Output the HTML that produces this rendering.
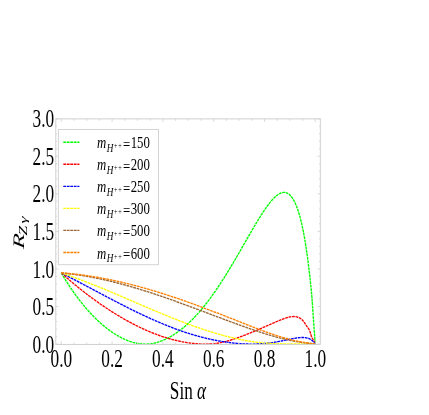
<!DOCTYPE html>
<html><head><meta charset="utf-8"><title>R_Zgamma vs Sin alpha</title>
<style>html,body{margin:0;padding:0;background:#fff;}svg{display:block;will-change:transform;}text{font-family:"Liberation Serif", serif;fill:#000;}</style></head><body>
<svg width="429" height="415" viewBox="0 0 429 415">
<rect x="0" y="0" width="429" height="415" fill="#ffffff"/>
<defs><clipPath id="cp"><rect x="55.8" y="118.9" width="264.50" height="225.50"/></clipPath></defs>
<g clip-path="url(#cp)" fill="none" stroke-width="1.35" stroke-dasharray="2.8,0.7">
<path d="M61.30,273.00 L62.10,274.36 L62.90,275.70 L63.70,277.02 L64.50,278.33 L65.30,279.63 L66.10,280.91 L66.90,282.17 L67.70,283.42 L68.50,284.65 L69.29,285.87 L70.09,287.08 L70.89,288.26 L71.69,289.44 L72.49,290.60 L73.29,291.75 L74.09,292.88 L74.89,294.00 L75.68,295.10 L76.48,296.19 L77.28,297.27 L78.08,298.33 L78.88,299.38 L79.67,300.42 L80.47,301.44 L81.27,302.45 L82.07,303.45 L82.86,304.43 L83.66,305.40 L84.46,306.36 L85.25,307.30 L86.05,308.24 L86.84,309.15 L87.64,310.06 L88.43,310.96 L89.23,311.84 L90.02,312.71 L90.82,313.56 L91.61,314.41 L92.40,315.24 L93.20,316.06 L93.99,316.87 L94.78,317.67 L95.58,318.45 L96.37,319.22 L97.16,319.98 L97.95,320.73 L98.74,321.47 L99.53,322.19 L100.32,322.91 L101.11,323.61 L101.90,324.30 L102.69,324.98 L103.48,325.64 L104.27,326.30 L105.06,326.94 L105.84,327.57 L106.63,328.19 L107.42,328.80 L108.20,329.40 L108.99,329.98 L109.77,330.56 L110.56,331.12 L111.34,331.67 L112.13,332.21 L112.91,332.74 L113.69,333.25 L114.47,333.76 L115.26,334.25 L116.04,334.73 L116.82,335.20 L117.60,335.66 L118.38,336.11 L119.16,336.54 L119.93,336.97 L120.71,337.38 L121.49,337.78 L122.27,338.17 L123.04,338.54 L123.82,338.91 L124.59,339.26 L125.37,339.60 L126.14,339.93 L126.91,340.25 L127.68,340.55 L128.45,340.85 L129.23,341.13 L130.00,341.40 L130.77,341.65 L131.53,341.90 L132.30,342.13 L133.07,342.35 L133.84,342.55 L134.60,342.75 L135.37,342.93 L136.13,343.10 L136.90,343.26 L137.66,343.40 L138.42,343.53 L139.18,343.65 L139.94,343.75 L140.70,343.84 L141.46,343.92 L142.22,343.98 L142.98,344.03 L143.73,344.07 L144.49,344.09 L145.24,344.10 L146.00,344.10 L146.75,344.08 L147.50,344.05 L148.26,344.00 L149.01,343.94 L149.76,343.87 L150.51,343.78 L151.25,343.68 L152.00,343.57 L152.75,343.44 L153.49,343.30 L154.24,343.15 L154.98,342.98 L155.72,342.80 L156.47,342.61 L157.21,342.40 L157.95,342.18 L158.69,341.95 L159.42,341.70 L160.16,341.45 L160.90,341.18 L161.63,340.90 L162.37,340.61 L163.10,340.30 L163.83,339.99 L164.56,339.66 L165.29,339.33 L166.02,338.98 L166.75,338.62 L167.48,338.25 L168.20,337.87 L168.93,337.48 L169.65,337.09 L170.37,336.68 L171.09,336.26 L171.82,335.84 L172.53,335.40 L173.25,334.96 L173.97,334.50 L174.69,334.04 L175.40,333.57 L176.11,333.09 L176.83,332.60 L177.54,332.10 L178.25,331.59 L178.96,331.07 L179.67,330.55 L180.37,330.02 L181.08,329.47 L181.78,328.92 L182.49,328.36 L183.19,327.79 L183.89,327.22 L184.59,326.63 L185.29,326.04 L185.98,325.43 L186.68,324.82 L187.38,324.20 L188.07,323.57 L188.76,322.93 L189.45,322.29 L190.14,321.63 L190.83,320.97 L191.52,320.29 L192.20,319.61 L192.89,318.92 L193.57,318.22 L194.25,317.51 L194.93,316.80 L195.61,316.07 L196.29,315.34 L196.97,314.60 L197.64,313.86 L198.32,313.10 L198.99,312.34 L199.66,311.57 L200.33,310.79 L201.00,310.00 L201.67,309.21 L202.33,308.41 L203.00,307.61 L203.66,306.79 L204.32,305.97 L204.98,305.14 L205.64,304.31 L206.30,303.47 L206.95,302.62 L207.61,301.77 L208.26,300.91 L208.91,300.04 L209.56,299.17 L210.21,298.29 L210.86,297.41 L211.50,296.52 L212.15,295.63 L212.79,294.73 L213.43,293.83 L214.07,292.92 L214.71,292.00 L215.34,291.08 L215.98,290.16 L216.61,289.23 L217.24,288.30 L217.87,287.36 L218.50,286.42 L219.13,285.47 L219.76,284.52 L220.38,283.57 L221.00,282.61 L221.62,281.65 L222.24,280.69 L222.86,279.72 L223.48,278.76 L224.09,277.78 L224.70,276.81 L225.32,275.83 L225.93,274.85 L226.53,273.87 L227.14,272.89 L227.74,271.90 L228.35,270.91 L228.95,269.93 L229.55,268.94 L230.15,267.94 L230.74,266.95 L231.34,265.96 L231.93,264.96 L232.52,263.97 L233.11,262.97 L233.70,261.98 L234.29,260.98 L234.87,259.99 L235.45,258.99 L236.04,258.00 L236.62,257.00 L237.19,256.01 L237.77,255.02 L238.34,254.02 L238.92,253.03 L239.49,252.04 L240.06,251.06 L240.62,250.07 L241.19,249.09 L241.75,248.11 L242.31,247.13 L242.87,246.15 L243.43,245.18 L243.99,244.21 L244.54,243.24 L245.10,242.27 L245.65,241.31 L246.20,240.35 L246.74,239.40 L247.29,238.45 L247.83,237.50 L248.37,236.56 L248.91,235.62 L249.45,234.69 L249.99,233.76 L250.52,232.84 L251.05,231.92 L251.58,231.01 L252.11,230.10 L252.64,229.20 L253.17,228.30 L253.69,227.42 L254.21,226.53 L254.73,225.66 L255.25,224.79 L255.76,223.92 L256.27,223.07 L256.79,222.22 L257.30,221.37 L257.80,220.54 L258.31,219.71 L258.81,218.89 L259.31,218.08 L259.81,217.28 L260.31,216.49 L260.81,215.70 L261.30,214.92 L261.79,214.16 L262.28,213.40 L262.77,212.65 L263.26,211.91 L263.74,211.18 L264.22,210.46 L264.70,209.75 L265.18,209.05 L265.66,208.37 L266.13,207.69 L266.60,207.02 L267.07,206.37 L267.54,205.73 L268.01,205.10 L268.47,204.48 L268.93,203.88 L269.39,203.29 L269.85,202.71 L270.30,202.14 L270.76,201.59 L271.21,201.06 L271.66,200.53 L272.10,200.02 L272.55,199.53 L272.99,199.05 L273.43,198.58 L273.87,198.13 L274.31,197.70 L274.74,197.28 L275.17,196.87 L275.60,196.49 L276.03,196.11 L276.46,195.76 L276.88,195.42 L277.30,195.10 L277.72,194.80 L278.14,194.51 L278.56,194.24 L278.97,193.99 L279.38,193.76 L279.79,193.54 L280.20,193.34 L280.60,193.16 L281.00,193.00 L281.40,192.86 L281.80,192.74 L282.20,192.64 L282.59,192.55 L282.98,192.49 L283.37,192.44 L283.76,192.42 L284.14,192.41 L284.53,192.43 L284.91,192.47 L285.28,192.52 L285.66,192.60 L286.03,192.70 L286.41,192.81 L286.77,192.95 L287.14,193.11 L287.51,193.29 L287.87,193.49 L288.23,193.72 L288.59,193.96 L288.94,194.22 L289.30,194.51 L289.65,194.82 L290.00,195.15 L290.34,195.49 L290.69,195.87 L291.03,196.26 L291.37,196.67 L291.71,197.11 L292.04,197.56 L292.38,198.04 L292.71,198.54 L293.04,199.06 L293.36,199.60 L293.69,200.17 L294.01,200.75 L294.33,201.36 L294.64,201.99 L294.96,202.64 L295.27,203.30 L295.58,204.00 L295.89,204.71 L296.19,205.44 L296.50,206.19 L296.80,206.97 L297.10,207.77 L297.39,208.58 L297.69,209.42 L297.98,210.27 L298.27,211.15 L298.55,212.05 L298.84,212.97 L299.12,213.90 L299.40,214.86 L299.68,215.84 L299.95,216.83 L300.22,217.85 L300.49,218.88 L300.76,219.94 L301.03,221.01 L301.29,222.10 L301.55,223.21 L301.81,224.34 L302.07,225.48 L302.32,226.64 L302.57,227.82 L302.82,229.02 L303.07,230.23 L303.31,231.46 L303.55,232.71 L303.79,233.97 L304.03,235.25 L304.26,236.54 L304.49,237.85 L304.72,239.17 L304.95,240.51 L305.17,241.86 L305.40,243.22 L305.62,244.60 L305.83,245.98 L306.05,247.38 L306.26,248.79 L306.47,250.20 L306.68,251.63 L306.88,253.06 L307.09,254.50 L307.29,255.95 L307.49,257.41 L307.68,258.86 L307.87,260.33 L308.07,261.79 L308.25,263.27 L308.44,264.74 L308.62,266.21 L308.80,267.69 L308.98,269.17 L309.16,270.64 L309.33,272.12 L309.50,273.59 L309.67,275.07 L309.84,276.54 L310.00,278.01 L310.16,279.47 L310.32,280.93 L310.48,282.38 L310.63,283.83 L310.78,285.27 L310.93,286.71 L311.08,288.16 L311.22,289.62 L311.36,291.10 L311.50,292.61 L311.64,294.15 L311.77,295.73 L311.90,297.35 L312.03,299.01 L312.16,300.71 L312.28,302.44 L312.41,304.17 L312.53,305.90 L312.64,307.62 L312.76,309.32 L312.87,310.98 L312.98,312.61 L313.08,314.20 L313.19,315.73 L313.29,317.21 L313.39,318.65 L313.48,320.03 L313.58,321.36 L313.67,322.65 L313.76,323.89 L313.85,325.08 L313.93,326.24 L314.01,327.35 L314.09,328.42 L314.17,329.44 L314.24,330.43 L314.31,331.38 L314.38,332.29 L314.45,333.17 L314.51,334.00 L314.58,334.80 L314.63,335.57 L314.69,336.30 L314.75,336.99 L314.80,337.66 L314.85,338.28 L314.89,338.88 L314.94,339.44 L314.98,339.97 L315.02,340.47 L315.05,340.93 L315.09,341.37 L315.12,341.77 L315.15,342.14 L315.17,342.48 L315.20,342.78 L315.22,343.06 L315.24,343.30 L315.25,343.51 L315.27,343.69 L315.28,343.84 L315.29,343.95 L315.29,344.03 L315.30,344.08 L315.30,344.10" stroke="#00ff00"/>
<path d="M61.30,273.00 L62.10,273.71 L62.90,274.42 L63.70,275.13 L64.50,275.83 L65.30,276.53 L66.10,277.23 L66.90,277.92 L67.70,278.61 L68.50,279.30 L69.29,279.98 L70.09,280.66 L70.89,281.34 L71.69,282.01 L72.49,282.68 L73.29,283.35 L74.09,284.01 L74.89,284.67 L75.68,285.33 L76.48,285.98 L77.28,286.63 L78.08,287.28 L78.88,287.92 L79.67,288.56 L80.47,289.19 L81.27,289.83 L82.07,290.45 L82.86,291.08 L83.66,291.70 L84.46,292.32 L85.25,292.94 L86.05,293.55 L86.84,294.16 L87.64,294.76 L88.43,295.36 L89.23,295.96 L90.02,296.56 L90.82,297.15 L91.61,297.74 L92.40,298.32 L93.20,298.90 L93.99,299.48 L94.78,300.05 L95.58,300.63 L96.37,301.19 L97.16,301.76 L97.95,302.32 L98.74,302.87 L99.53,303.43 L100.32,303.98 L101.11,304.53 L101.90,305.07 L102.69,305.61 L103.48,306.15 L104.27,306.68 L105.06,307.21 L105.84,307.73 L106.63,308.26 L107.42,308.78 L108.20,309.29 L108.99,309.80 L109.77,310.31 L110.56,310.82 L111.34,311.32 L112.13,311.82 L112.91,312.31 L113.69,312.80 L114.47,313.29 L115.26,313.78 L116.04,314.26 L116.82,314.73 L117.60,315.21 L118.38,315.68 L119.16,316.14 L119.93,316.61 L120.71,317.07 L121.49,317.52 L122.27,317.97 L123.04,318.42 L123.82,318.87 L124.59,319.31 L125.37,319.75 L126.14,320.18 L126.91,320.61 L127.68,321.04 L128.45,321.46 L129.23,321.88 L130.00,322.30 L130.77,322.71 L131.53,323.12 L132.30,323.52 L133.07,323.93 L133.84,324.32 L134.60,324.72 L135.37,325.11 L136.13,325.49 L136.90,325.88 L137.66,326.26 L138.42,326.63 L139.18,327.00 L139.94,327.37 L140.70,327.73 L141.46,328.09 L142.22,328.45 L142.98,328.80 L143.73,329.15 L144.49,329.49 L145.24,329.83 L146.00,330.16 L146.75,330.50 L147.50,330.82 L148.26,331.15 L149.01,331.47 L149.76,331.78 L150.51,332.09 L151.25,332.40 L152.00,332.70 L152.75,333.00 L153.49,333.30 L154.24,333.59 L154.98,333.88 L155.72,334.16 L156.47,334.44 L157.21,334.71 L157.95,334.98 L158.69,335.25 L159.42,335.51 L160.16,335.77 L160.90,336.03 L161.63,336.28 L162.37,336.52 L163.10,336.77 L163.83,337.00 L164.56,337.24 L165.29,337.47 L166.02,337.69 L166.75,337.92 L167.48,338.13 L168.20,338.35 L168.93,338.56 L169.65,338.76 L170.37,338.96 L171.09,339.16 L171.82,339.36 L172.53,339.55 L173.25,339.73 L173.97,339.92 L174.69,340.10 L175.40,340.27 L176.11,340.44 L176.83,340.61 L177.54,340.77 L178.25,340.93 L178.96,341.09 L179.67,341.24 L180.37,341.39 L181.08,341.53 L181.78,341.67 L182.49,341.81 L183.19,341.94 L183.89,342.07 L184.59,342.20 L185.29,342.32 L185.98,342.44 L186.68,342.55 L187.38,342.66 L188.07,342.77 L188.76,342.87 L189.45,342.97 L190.14,343.06 L190.83,343.15 L191.52,343.24 L192.20,343.32 L192.89,343.40 L193.57,343.47 L194.25,343.54 L194.93,343.61 L195.61,343.67 L196.29,343.73 L196.97,343.78 L197.64,343.83 L198.32,343.88 L198.99,343.92 L199.66,343.96 L200.33,343.99 L201.00,344.02 L201.67,344.04 L202.33,344.06 L203.00,344.08 L203.66,344.09 L204.32,344.10 L204.98,344.10 L205.64,344.10 L206.30,344.09 L206.95,344.08 L207.61,344.06 L208.26,344.04 L208.91,344.02 L209.56,343.99 L210.21,343.95 L210.86,343.91 L211.50,343.86 L212.15,343.81 L212.79,343.76 L213.43,343.70 L214.07,343.63 L214.71,343.56 L215.34,343.48 L215.98,343.40 L216.61,343.32 L217.24,343.22 L217.87,343.13 L218.50,343.02 L219.13,342.92 L219.76,342.80 L220.38,342.69 L221.00,342.57 L221.62,342.44 L222.24,342.31 L222.86,342.17 L223.48,342.03 L224.09,341.89 L224.70,341.74 L225.32,341.59 L225.93,341.43 L226.53,341.27 L227.14,341.11 L227.74,340.94 L228.35,340.77 L228.95,340.60 L229.55,340.42 L230.15,340.25 L230.74,340.06 L231.34,339.88 L231.93,339.69 L232.52,339.51 L233.11,339.32 L233.70,339.12 L234.29,338.93 L234.87,338.73 L235.45,338.53 L236.04,338.33 L236.62,338.13 L237.19,337.93 L237.77,337.73 L238.34,337.52 L238.92,337.32 L239.49,337.11 L240.06,336.90 L240.62,336.69 L241.19,336.49 L241.75,336.28 L242.31,336.07 L242.87,335.85 L243.43,335.64 L243.99,335.43 L244.54,335.22 L245.10,335.01 L245.65,334.79 L246.20,334.58 L246.74,334.36 L247.29,334.15 L247.83,333.94 L248.37,333.72 L248.91,333.51 L249.45,333.29 L249.99,333.07 L250.52,332.86 L251.05,332.64 L251.58,332.43 L252.11,332.21 L252.64,331.99 L253.17,331.78 L253.69,331.56 L254.21,331.34 L254.73,331.13 L255.25,330.91 L255.76,330.69 L256.27,330.48 L256.79,330.26 L257.30,330.04 L257.80,329.82 L258.31,329.61 L258.81,329.39 L259.31,329.17 L259.81,328.96 L260.31,328.74 L260.81,328.53 L261.30,328.31 L261.79,328.10 L262.28,327.88 L262.77,327.67 L263.26,327.45 L263.74,327.24 L264.22,327.03 L264.70,326.82 L265.18,326.61 L265.66,326.40 L266.13,326.19 L266.60,325.98 L267.07,325.77 L267.54,325.57 L268.01,325.36 L268.47,325.16 L268.93,324.95 L269.39,324.75 L269.85,324.55 L270.30,324.35 L270.76,324.15 L271.21,323.95 L271.66,323.75 L272.10,323.56 L272.55,323.36 L272.99,323.17 L273.43,322.98 L273.87,322.79 L274.31,322.60 L274.74,322.41 L275.17,322.23 L275.60,322.04 L276.03,321.86 L276.46,321.68 L276.88,321.50 L277.30,321.32 L277.72,321.15 L278.14,320.97 L278.56,320.80 L278.97,320.63 L279.38,320.46 L279.79,320.29 L280.20,320.13 L280.60,319.97 L281.00,319.81 L281.40,319.65 L281.80,319.49 L282.20,319.34 L282.59,319.19 L282.98,319.04 L283.37,318.89 L283.76,318.75 L284.14,318.61 L284.53,318.47 L284.91,318.34 L285.28,318.21 L285.66,318.09 L286.03,317.97 L286.41,317.85 L286.77,317.74 L287.14,317.63 L287.51,317.52 L287.87,317.42 L288.23,317.33 L288.59,317.23 L288.94,317.15 L289.30,317.07 L289.65,316.99 L290.00,316.92 L290.34,316.86 L290.69,316.80 L291.03,316.74 L291.37,316.70 L291.71,316.65 L292.04,316.62 L292.38,316.59 L292.71,316.57 L293.04,316.55 L293.36,316.54 L293.69,316.53 L294.01,316.54 L294.33,316.55 L294.64,316.56 L294.96,316.59 L295.27,316.62 L295.58,316.66 L295.89,316.70 L296.19,316.76 L296.50,316.82 L296.80,316.89 L297.10,316.96 L297.39,317.05 L297.69,317.14 L297.98,317.24 L298.27,317.35 L298.55,317.46 L298.84,317.59 L299.12,317.72 L299.40,317.86 L299.68,318.01 L299.95,318.17 L300.22,318.34 L300.49,318.52 L300.76,318.70 L301.03,318.90 L301.29,319.11 L301.55,319.32 L301.81,319.55 L302.07,319.78 L302.32,320.03 L302.57,320.28 L302.82,320.55 L303.07,320.82 L303.31,321.11 L303.55,321.40 L303.79,321.71 L304.03,322.02 L304.26,322.35 L304.49,322.68 L304.72,323.02 L304.95,323.36 L305.17,323.71 L305.40,324.05 L305.62,324.40 L305.83,324.74 L306.05,325.08 L306.26,325.41 L306.47,325.74 L306.68,326.05 L306.88,326.36 L307.09,326.65 L307.29,326.93 L307.49,327.19 L307.68,327.45 L307.87,327.69 L308.07,327.94 L308.25,328.19 L308.44,328.45 L308.62,328.71 L308.80,328.99 L308.98,329.29 L309.16,329.61 L309.33,329.96 L309.50,330.33 L309.67,330.74 L309.84,331.18 L310.00,331.65 L310.16,332.16 L310.32,332.70 L310.48,333.25 L310.63,333.80 L310.78,334.33 L310.93,334.84 L311.08,335.30 L311.22,335.73 L311.36,336.12 L311.50,336.47 L311.64,336.80 L311.77,337.09 L311.90,337.37 L312.03,337.62 L312.16,337.85 L312.28,338.07 L312.41,338.27 L312.53,338.46 L312.64,338.65 L312.76,338.82 L312.87,338.99 L312.98,339.15 L313.08,339.31 L313.19,339.47 L313.29,339.63 L313.39,339.78 L313.48,339.95 L313.58,340.11 L313.67,340.28 L313.76,340.45 L313.85,340.63 L313.93,340.81 L314.01,341.00 L314.09,341.18 L314.17,341.36 L314.24,341.54 L314.31,341.72 L314.38,341.89 L314.45,342.05 L314.51,342.22 L314.58,342.37 L314.63,342.52 L314.69,342.66 L314.75,342.79 L314.80,342.92 L314.85,343.04 L314.89,343.15 L314.94,343.25 L314.98,343.35 L315.02,343.44 L315.05,343.52 L315.09,343.60 L315.12,343.67 L315.15,343.74 L315.17,343.80 L315.20,343.85 L315.22,343.90 L315.24,343.95 L315.25,343.99 L315.27,344.02 L315.28,344.05 L315.29,344.07 L315.29,344.09 L315.30,344.10 L315.30,344.10" stroke="#ff0000"/>
<path d="M61.30,273.00 L62.10,273.40 L62.90,273.80 L63.70,274.21 L64.50,274.61 L65.30,275.02 L66.10,275.42 L66.90,275.83 L67.70,276.24 L68.50,276.65 L69.29,277.06 L70.09,277.47 L70.89,277.88 L71.69,278.30 L72.49,278.71 L73.29,279.12 L74.09,279.54 L74.89,279.95 L75.68,280.37 L76.48,280.79 L77.28,281.20 L78.08,281.62 L78.88,282.04 L79.67,282.46 L80.47,282.88 L81.27,283.30 L82.07,283.72 L82.86,284.14 L83.66,284.56 L84.46,284.98 L85.25,285.40 L86.05,285.82 L86.84,286.24 L87.64,286.67 L88.43,287.09 L89.23,287.51 L90.02,287.93 L90.82,288.35 L91.61,288.77 L92.40,289.20 L93.20,289.62 L93.99,290.04 L94.78,290.46 L95.58,290.88 L96.37,291.30 L97.16,291.72 L97.95,292.14 L98.74,292.56 L99.53,292.98 L100.32,293.40 L101.11,293.82 L101.90,294.24 L102.69,294.66 L103.48,295.07 L104.27,295.49 L105.06,295.91 L105.84,296.32 L106.63,296.74 L107.42,297.15 L108.20,297.56 L108.99,297.98 L109.77,298.39 L110.56,298.80 L111.34,299.21 L112.13,299.62 L112.91,300.03 L113.69,300.44 L114.47,300.85 L115.26,301.25 L116.04,301.66 L116.82,302.06 L117.60,302.47 L118.38,302.87 L119.16,303.27 L119.93,303.67 L120.71,304.07 L121.49,304.47 L122.27,304.86 L123.04,305.26 L123.82,305.66 L124.59,306.05 L125.37,306.44 L126.14,306.83 L126.91,307.22 L127.68,307.61 L128.45,308.00 L129.23,308.38 L130.00,308.77 L130.77,309.15 L131.53,309.53 L132.30,309.91 L133.07,310.29 L133.84,310.67 L134.60,311.04 L135.37,311.41 L136.13,311.79 L136.90,312.16 L137.66,312.53 L138.42,312.89 L139.18,313.26 L139.94,313.62 L140.70,313.99 L141.46,314.35 L142.22,314.71 L142.98,315.06 L143.73,315.42 L144.49,315.77 L145.24,316.13 L146.00,316.48 L146.75,316.82 L147.50,317.17 L148.26,317.52 L149.01,317.86 L149.76,318.20 L150.51,318.54 L151.25,318.88 L152.00,319.21 L152.75,319.54 L153.49,319.88 L154.24,320.20 L154.98,320.53 L155.72,320.86 L156.47,321.18 L157.21,321.50 L157.95,321.82 L158.69,322.14 L159.42,322.45 L160.16,322.77 L160.90,323.08 L161.63,323.38 L162.37,323.69 L163.10,324.00 L163.83,324.30 L164.56,324.60 L165.29,324.90 L166.02,325.19 L166.75,325.49 L167.48,325.78 L168.20,326.07 L168.93,326.35 L169.65,326.64 L170.37,326.92 L171.09,327.20 L171.82,327.48 L172.53,327.75 L173.25,328.03 L173.97,328.30 L174.69,328.56 L175.40,328.83 L176.11,329.09 L176.83,329.36 L177.54,329.62 L178.25,329.87 L178.96,330.13 L179.67,330.38 L180.37,330.63 L181.08,330.88 L181.78,331.12 L182.49,331.36 L183.19,331.60 L183.89,331.84 L184.59,332.08 L185.29,332.31 L185.98,332.54 L186.68,332.77 L187.38,332.99 L188.07,333.22 L188.76,333.44 L189.45,333.65 L190.14,333.87 L190.83,334.08 L191.52,334.29 L192.20,334.50 L192.89,334.71 L193.57,334.91 L194.25,335.11 L194.93,335.31 L195.61,335.51 L196.29,335.70 L196.97,335.89 L197.64,336.08 L198.32,336.27 L198.99,336.45 L199.66,336.64 L200.33,336.81 L201.00,336.99 L201.67,337.17 L202.33,337.34 L203.00,337.51 L203.66,337.67 L204.32,337.84 L204.98,338.00 L205.64,338.16 L206.30,338.32 L206.95,338.47 L207.61,338.63 L208.26,338.78 L208.91,338.93 L209.56,339.07 L210.21,339.21 L210.86,339.36 L211.50,339.49 L212.15,339.63 L212.79,339.76 L213.43,339.90 L214.07,340.03 L214.71,340.15 L215.34,340.28 L215.98,340.40 L216.61,340.52 L217.24,340.64 L217.87,340.75 L218.50,340.87 L219.13,340.98 L219.76,341.09 L220.38,341.20 L221.00,341.30 L221.62,341.40 L222.24,341.51 L222.86,341.60 L223.48,341.70 L224.09,341.80 L224.70,341.89 L225.32,341.98 L225.93,342.07 L226.53,342.16 L227.14,342.24 L227.74,342.32 L228.35,342.41 L228.95,342.49 L229.55,342.56 L230.15,342.64 L230.74,342.71 L231.34,342.78 L231.93,342.85 L232.52,342.92 L233.11,342.99 L233.70,343.05 L234.29,343.11 L234.87,343.17 L235.45,343.23 L236.04,343.29 L236.62,343.34 L237.19,343.40 L237.77,343.45 L238.34,343.50 L238.92,343.55 L239.49,343.59 L240.06,343.63 L240.62,343.68 L241.19,343.72 L241.75,343.75 L242.31,343.79 L242.87,343.82 L243.43,343.86 L243.99,343.89 L244.54,343.91 L245.10,343.94 L245.65,343.96 L246.20,343.99 L246.74,344.01 L247.29,344.02 L247.83,344.04 L248.37,344.06 L248.91,344.07 L249.45,344.08 L249.99,344.09 L250.52,344.09 L251.05,344.10 L251.58,344.10 L252.11,344.10 L252.64,344.10 L253.17,344.10 L253.69,344.09 L254.21,344.08 L254.73,344.07 L255.25,344.06 L255.76,344.05 L256.27,344.03 L256.79,344.02 L257.30,344.00 L257.80,343.98 L258.31,343.96 L258.81,343.93 L259.31,343.91 L259.81,343.88 L260.31,343.85 L260.81,343.82 L261.30,343.79 L261.79,343.75 L262.28,343.72 L262.77,343.68 L263.26,343.64 L263.74,343.60 L264.22,343.55 L264.70,343.51 L265.18,343.46 L265.66,343.42 L266.13,343.37 L266.60,343.32 L267.07,343.27 L267.54,343.21 L268.01,343.16 L268.47,343.10 L268.93,343.05 L269.39,342.99 L269.85,342.93 L270.30,342.87 L270.76,342.80 L271.21,342.74 L271.66,342.68 L272.10,342.61 L272.55,342.55 L272.99,342.48 L273.43,342.41 L273.87,342.34 L274.31,342.27 L274.74,342.20 L275.17,342.13 L275.60,342.05 L276.03,341.98 L276.46,341.91 L276.88,341.83 L277.30,341.76 L277.72,341.68 L278.14,341.60 L278.56,341.53 L278.97,341.45 L279.38,341.37 L279.79,341.29 L280.20,341.21 L280.60,341.14 L281.00,341.06 L281.40,340.98 L281.80,340.90 L282.20,340.82 L282.59,340.74 L282.98,340.66 L283.37,340.58 L283.76,340.50 L284.14,340.42 L284.53,340.34 L284.91,340.26 L285.28,340.18 L285.66,340.10 L286.03,340.03 L286.41,339.95 L286.77,339.87 L287.14,339.79 L287.51,339.72 L287.87,339.64 L288.23,339.57 L288.59,339.49 L288.94,339.42 L289.30,339.35 L289.65,339.27 L290.00,339.20 L290.34,339.13 L290.69,339.06 L291.03,338.99 L291.37,338.93 L291.71,338.86 L292.04,338.79 L292.38,338.73 L292.71,338.67 L293.04,338.61 L293.36,338.54 L293.69,338.49 L294.01,338.43 L294.33,338.37 L294.64,338.32 L294.96,338.26 L295.27,338.21 L295.58,338.16 L295.89,338.11 L296.19,338.07 L296.50,338.02 L296.80,337.98 L297.10,337.93 L297.39,337.89 L297.69,337.86 L297.98,337.82 L298.27,337.78 L298.55,337.75 L298.84,337.72 L299.12,337.69 L299.40,337.67 L299.68,337.64 L299.95,337.62 L300.22,337.60 L300.49,337.58 L300.76,337.56 L301.03,337.55 L301.29,337.54 L301.55,337.53 L301.81,337.52 L302.07,337.52 L302.32,337.52 L302.57,337.52 L302.82,337.52 L303.07,337.52 L303.31,337.53 L303.55,337.54 L303.79,337.55 L304.03,337.56 L304.26,337.58 L304.49,337.60 L304.72,337.62 L304.95,337.64 L305.17,337.67 L305.40,337.70 L305.62,337.73 L305.83,337.76 L306.05,337.80 L306.26,337.84 L306.47,337.88 L306.68,337.92 L306.88,337.97 L307.09,338.01 L307.29,338.06 L307.49,338.12 L307.68,338.17 L307.87,338.23 L308.07,338.29 L308.25,338.35 L308.44,338.41 L308.62,338.48 L308.80,338.55 L308.98,338.62 L309.16,338.69 L309.33,338.77 L309.50,338.84 L309.67,338.92 L309.84,339.00 L310.00,339.09 L310.16,339.17 L310.32,339.26 L310.48,339.34 L310.63,339.43 L310.78,339.53 L310.93,339.62 L311.08,339.71 L311.22,339.81 L311.36,339.91 L311.50,340.01 L311.64,340.11 L311.77,340.21 L311.90,340.31 L312.03,340.41 L312.16,340.52 L312.28,340.62 L312.41,340.73 L312.53,340.83 L312.64,340.94 L312.76,341.05 L312.87,341.16 L312.98,341.26 L313.08,341.37 L313.19,341.48 L313.29,341.58 L313.39,341.69 L313.48,341.79 L313.58,341.90 L313.67,342.00 L313.76,342.10 L313.85,342.20 L313.93,342.30 L314.01,342.40 L314.09,342.50 L314.17,342.59 L314.24,342.68 L314.31,342.77 L314.38,342.86 L314.45,342.94 L314.51,343.03 L314.58,343.11 L314.63,343.18 L314.69,343.26 L314.75,343.33 L314.80,343.40 L314.85,343.47 L314.89,343.53 L314.94,343.59 L314.98,343.65 L315.02,343.70 L315.05,343.75 L315.09,343.80 L315.12,343.84 L315.15,343.89 L315.17,343.92 L315.20,343.96 L315.22,343.99 L315.24,344.01 L315.25,344.04 L315.27,344.06 L315.28,344.07 L315.29,344.08 L315.29,344.09 L315.30,344.10 L315.30,344.10" stroke="#0000ff"/>
<path d="M61.30,273.00 L62.10,273.26 L62.90,273.52 L63.70,273.78 L64.50,274.05 L65.30,274.32 L66.10,274.59 L66.90,274.86 L67.70,275.13 L68.50,275.40 L69.29,275.68 L70.09,275.96 L70.89,276.24 L71.69,276.52 L72.49,276.80 L73.29,277.08 L74.09,277.37 L74.89,277.66 L75.68,277.95 L76.48,278.24 L77.28,278.53 L78.08,278.82 L78.88,279.12 L79.67,279.41 L80.47,279.71 L81.27,280.01 L82.07,280.31 L82.86,280.61 L83.66,280.92 L84.46,281.22 L85.25,281.53 L86.05,281.83 L86.84,282.14 L87.64,282.45 L88.43,282.76 L89.23,283.07 L90.02,283.38 L90.82,283.70 L91.61,284.01 L92.40,284.33 L93.20,284.64 L93.99,284.96 L94.78,285.28 L95.58,285.60 L96.37,285.92 L97.16,286.24 L97.95,286.56 L98.74,286.88 L99.53,287.21 L100.32,287.53 L101.11,287.85 L101.90,288.18 L102.69,288.50 L103.48,288.83 L104.27,289.16 L105.06,289.49 L105.84,289.81 L106.63,290.14 L107.42,290.47 L108.20,290.80 L108.99,291.13 L109.77,291.46 L110.56,291.79 L111.34,292.12 L112.13,292.45 L112.91,292.79 L113.69,293.12 L114.47,293.45 L115.26,293.78 L116.04,294.12 L116.82,294.45 L117.60,294.78 L118.38,295.11 L119.16,295.45 L119.93,295.78 L120.71,296.11 L121.49,296.45 L122.27,296.78 L123.04,297.12 L123.82,297.45 L124.59,297.78 L125.37,298.12 L126.14,298.45 L126.91,298.78 L127.68,299.12 L128.45,299.45 L129.23,299.78 L130.00,300.11 L130.77,300.45 L131.53,300.78 L132.30,301.11 L133.07,301.44 L133.84,301.77 L134.60,302.10 L135.37,302.43 L136.13,302.76 L136.90,303.09 L137.66,303.42 L138.42,303.75 L139.18,304.08 L139.94,304.41 L140.70,304.73 L141.46,305.06 L142.22,305.39 L142.98,305.71 L143.73,306.04 L144.49,306.36 L145.24,306.69 L146.00,307.01 L146.75,307.33 L147.50,307.65 L148.26,307.97 L149.01,308.29 L149.76,308.61 L150.51,308.93 L151.25,309.25 L152.00,309.57 L152.75,309.88 L153.49,310.20 L154.24,310.51 L154.98,310.83 L155.72,311.14 L156.47,311.45 L157.21,311.76 L157.95,312.07 L158.69,312.38 L159.42,312.69 L160.16,313.00 L160.90,313.30 L161.63,313.61 L162.37,313.91 L163.10,314.22 L163.83,314.52 L164.56,314.82 L165.29,315.12 L166.02,315.42 L166.75,315.72 L167.48,316.01 L168.20,316.31 L168.93,316.60 L169.65,316.89 L170.37,317.19 L171.09,317.48 L171.82,317.76 L172.53,318.05 L173.25,318.34 L173.97,318.62 L174.69,318.91 L175.40,319.19 L176.11,319.47 L176.83,319.75 L177.54,320.03 L178.25,320.31 L178.96,320.59 L179.67,320.86 L180.37,321.13 L181.08,321.40 L181.78,321.68 L182.49,321.94 L183.19,322.21 L183.89,322.48 L184.59,322.74 L185.29,323.01 L185.98,323.27 L186.68,323.53 L187.38,323.79 L188.07,324.04 L188.76,324.30 L189.45,324.55 L190.14,324.81 L190.83,325.06 L191.52,325.31 L192.20,325.55 L192.89,325.80 L193.57,326.05 L194.25,326.29 L194.93,326.53 L195.61,326.77 L196.29,327.01 L196.97,327.25 L197.64,327.48 L198.32,327.71 L198.99,327.95 L199.66,328.18 L200.33,328.41 L201.00,328.63 L201.67,328.86 L202.33,329.08 L203.00,329.30 L203.66,329.52 L204.32,329.74 L204.98,329.96 L205.64,330.17 L206.30,330.39 L206.95,330.60 L207.61,330.81 L208.26,331.02 L208.91,331.22 L209.56,331.43 L210.21,331.63 L210.86,331.83 L211.50,332.03 L212.15,332.23 L212.79,332.43 L213.43,332.62 L214.07,332.81 L214.71,333.01 L215.34,333.19 L215.98,333.38 L216.61,333.57 L217.24,333.75 L217.87,333.93 L218.50,334.11 L219.13,334.29 L219.76,334.47 L220.38,334.64 L221.00,334.82 L221.62,334.99 L222.24,335.16 L222.86,335.33 L223.48,335.49 L224.09,335.66 L224.70,335.82 L225.32,335.98 L225.93,336.14 L226.53,336.30 L227.14,336.45 L227.74,336.61 L228.35,336.76 L228.95,336.91 L229.55,337.06 L230.15,337.21 L230.74,337.35 L231.34,337.49 L231.93,337.64 L232.52,337.78 L233.11,337.91 L233.70,338.05 L234.29,338.19 L234.87,338.32 L235.45,338.45 L236.04,338.58 L236.62,338.71 L237.19,338.83 L237.77,338.96 L238.34,339.08 L238.92,339.20 L239.49,339.32 L240.06,339.44 L240.62,339.55 L241.19,339.67 L241.75,339.78 L242.31,339.89 L242.87,340.00 L243.43,340.10 L243.99,340.21 L244.54,340.31 L245.10,340.41 L245.65,340.51 L246.20,340.61 L246.74,340.70 L247.29,340.80 L247.83,340.89 L248.37,340.98 L248.91,341.07 L249.45,341.15 L249.99,341.24 L250.52,341.32 L251.05,341.40 L251.58,341.48 L252.11,341.56 L252.64,341.64 L253.17,341.71 L253.69,341.78 L254.21,341.85 L254.73,341.92 L255.25,341.99 L255.76,342.06 L256.27,342.12 L256.79,342.18 L257.30,342.24 L257.80,342.30 L258.31,342.36 L258.81,342.42 L259.31,342.47 L259.81,342.52 L260.31,342.57 L260.81,342.62 L261.30,342.67 L261.79,342.72 L262.28,342.77 L262.77,342.81 L263.26,342.85 L263.74,342.90 L264.22,342.94 L264.70,342.97 L265.18,343.01 L265.66,343.05 L266.13,343.08 L266.60,343.12 L267.07,343.15 L267.54,343.18 L268.01,343.21 L268.47,343.24 L268.93,343.27 L269.39,343.30 L269.85,343.33 L270.30,343.35 L270.76,343.38 L271.21,343.40 L271.66,343.43 L272.10,343.45 L272.55,343.47 L272.99,343.49 L273.43,343.51 L273.87,343.53 L274.31,343.55 L274.74,343.57 L275.17,343.59 L275.60,343.60 L276.03,343.62 L276.46,343.63 L276.88,343.65 L277.30,343.66 L277.72,343.68 L278.14,343.69 L278.56,343.71 L278.97,343.72 L279.38,343.73 L279.79,343.74 L280.20,343.75 L280.60,343.76 L281.00,343.78 L281.40,343.79 L281.80,343.80 L282.20,343.80 L282.59,343.81 L282.98,343.82 L283.37,343.83 L283.76,343.84 L284.14,343.85 L284.53,343.85 L284.91,343.86 L285.28,343.87 L285.66,343.88 L286.03,343.88 L286.41,343.89 L286.77,343.89 L287.14,343.90 L287.51,343.90 L287.87,343.91 L288.23,343.92 L288.59,343.92 L288.94,343.93 L289.30,343.93 L289.65,343.93 L290.00,343.94 L290.34,343.94 L290.69,343.95 L291.03,343.95 L291.37,343.95 L291.71,343.96 L292.04,343.96 L292.38,343.96 L292.71,343.97 L293.04,343.97 L293.36,343.97 L293.69,343.98 L294.01,343.98 L294.33,343.98 L294.64,343.98 L294.96,343.99 L295.27,343.99 L295.58,343.99 L295.89,343.99 L296.19,343.99 L296.50,344.00 L296.80,344.00 L297.10,344.00 L297.39,344.00 L297.69,344.00 L297.98,344.00 L298.27,344.01 L298.55,344.01 L298.84,344.01 L299.12,344.01 L299.40,344.01 L299.68,344.01 L299.95,344.01 L300.22,344.02 L300.49,344.02 L300.76,344.02 L301.03,344.02 L301.29,344.02 L301.55,344.02 L301.81,344.02 L302.07,344.02 L302.32,344.02 L302.57,344.03 L302.82,344.03 L303.07,344.03 L303.31,344.03 L303.55,344.03 L303.79,344.03 L304.03,344.03 L304.26,344.03 L304.49,344.03 L304.72,344.03 L304.95,344.03 L305.17,344.03 L305.40,344.04 L305.62,344.04 L305.83,344.04 L306.05,344.04 L306.26,344.04 L306.47,344.04 L306.68,344.04 L306.88,344.04 L307.09,344.04 L307.29,344.04 L307.49,344.04 L307.68,344.04 L307.87,344.04 L308.07,344.04 L308.25,344.04 L308.44,344.05 L308.62,344.05 L308.80,344.05 L308.98,344.05 L309.16,344.05 L309.33,344.05 L309.50,344.05 L309.67,344.05 L309.84,344.05 L310.00,344.05 L310.16,344.05 L310.32,344.05 L310.48,344.05 L310.63,344.05 L310.78,344.05 L310.93,344.06 L311.08,344.06 L311.22,344.06 L311.36,344.06 L311.50,344.06 L311.64,344.06 L311.77,344.06 L311.90,344.06 L312.03,344.06 L312.16,344.06 L312.28,344.06 L312.41,344.06 L312.53,344.06 L312.64,344.07 L312.76,344.07 L312.87,344.07 L312.98,344.07 L313.08,344.07 L313.19,344.07 L313.29,344.07 L313.39,344.07 L313.48,344.07 L313.58,344.07 L313.67,344.07 L313.76,344.07 L313.85,344.08 L313.93,344.08 L314.01,344.08 L314.09,344.08 L314.17,344.08 L314.24,344.08 L314.31,344.08 L314.38,344.08 L314.45,344.08 L314.51,344.08 L314.58,344.09 L314.63,344.09 L314.69,344.09 L314.75,344.09 L314.80,344.09 L314.85,344.09 L314.89,344.09 L314.94,344.09 L314.98,344.09 L315.02,344.09 L315.05,344.09 L315.09,344.09 L315.12,344.10 L315.15,344.10 L315.17,344.10 L315.20,344.10 L315.22,344.10 L315.24,344.10 L315.25,344.10 L315.27,344.10 L315.28,344.10 L315.29,344.10 L315.29,344.10 L315.30,344.10 L315.30,344.10" stroke="#ffff00"/>
<path d="M61.30,273.00 L62.10,273.07 L62.90,273.14 L63.70,273.22 L64.50,273.29 L65.30,273.37 L66.10,273.45 L66.90,273.54 L67.70,273.62 L68.50,273.71 L69.29,273.80 L70.09,273.89 L70.89,273.99 L71.69,274.09 L72.49,274.19 L73.29,274.29 L74.09,274.39 L74.89,274.50 L75.68,274.60 L76.48,274.71 L77.28,274.83 L78.08,274.94 L78.88,275.06 L79.67,275.18 L80.47,275.30 L81.27,275.42 L82.07,275.54 L82.86,275.67 L83.66,275.80 L84.46,275.93 L85.25,276.06 L86.05,276.20 L86.84,276.33 L87.64,276.47 L88.43,276.61 L89.23,276.75 L90.02,276.90 L90.82,277.05 L91.61,277.19 L92.40,277.34 L93.20,277.50 L93.99,277.65 L94.78,277.80 L95.58,277.96 L96.37,278.12 L97.16,278.28 L97.95,278.44 L98.74,278.61 L99.53,278.77 L100.32,278.94 L101.11,279.11 L101.90,279.28 L102.69,279.45 L103.48,279.63 L104.27,279.80 L105.06,279.98 L105.84,280.16 L106.63,280.34 L107.42,280.52 L108.20,280.71 L108.99,280.89 L109.77,281.08 L110.56,281.27 L111.34,281.46 L112.13,281.65 L112.91,281.84 L113.69,282.03 L114.47,282.23 L115.26,282.42 L116.04,282.62 L116.82,282.82 L117.60,283.02 L118.38,283.23 L119.16,283.43 L119.93,283.63 L120.71,283.84 L121.49,284.05 L122.27,284.26 L123.04,284.47 L123.82,284.68 L124.59,284.89 L125.37,285.10 L126.14,285.32 L126.91,285.53 L127.68,285.75 L128.45,285.97 L129.23,286.19 L130.00,286.41 L130.77,286.63 L131.53,286.85 L132.30,287.07 L133.07,287.30 L133.84,287.52 L134.60,287.75 L135.37,287.98 L136.13,288.20 L136.90,288.43 L137.66,288.66 L138.42,288.89 L139.18,289.13 L139.94,289.36 L140.70,289.59 L141.46,289.83 L142.22,290.06 L142.98,290.30 L143.73,290.53 L144.49,290.77 L145.24,291.01 L146.00,291.25 L146.75,291.49 L147.50,291.73 L148.26,291.97 L149.01,292.21 L149.76,292.45 L150.51,292.70 L151.25,292.94 L152.00,293.19 L152.75,293.43 L153.49,293.68 L154.24,293.92 L154.98,294.17 L155.72,294.42 L156.47,294.66 L157.21,294.91 L157.95,295.16 L158.69,295.41 L159.42,295.66 L160.16,295.91 L160.90,296.16 L161.63,296.41 L162.37,296.66 L163.10,296.92 L163.83,297.17 L164.56,297.42 L165.29,297.67 L166.02,297.93 L166.75,298.18 L167.48,298.43 L168.20,298.69 L168.93,298.94 L169.65,299.20 L170.37,299.45 L171.09,299.70 L171.82,299.96 L172.53,300.22 L173.25,300.47 L173.97,300.73 L174.69,300.98 L175.40,301.24 L176.11,301.49 L176.83,301.75 L177.54,302.01 L178.25,302.26 L178.96,302.52 L179.67,302.77 L180.37,303.03 L181.08,303.29 L181.78,303.54 L182.49,303.80 L183.19,304.06 L183.89,304.31 L184.59,304.57 L185.29,304.82 L185.98,305.08 L186.68,305.34 L187.38,305.59 L188.07,305.85 L188.76,306.10 L189.45,306.36 L190.14,306.61 L190.83,306.87 L191.52,307.12 L192.20,307.38 L192.89,307.63 L193.57,307.89 L194.25,308.14 L194.93,308.39 L195.61,308.65 L196.29,308.90 L196.97,309.15 L197.64,309.40 L198.32,309.66 L198.99,309.91 L199.66,310.16 L200.33,310.41 L201.00,310.66 L201.67,310.91 L202.33,311.16 L203.00,311.41 L203.66,311.66 L204.32,311.91 L204.98,312.16 L205.64,312.40 L206.30,312.65 L206.95,312.90 L207.61,313.14 L208.26,313.39 L208.91,313.63 L209.56,313.88 L210.21,314.12 L210.86,314.37 L211.50,314.61 L212.15,314.85 L212.79,315.09 L213.43,315.33 L214.07,315.58 L214.71,315.82 L215.34,316.05 L215.98,316.29 L216.61,316.53 L217.24,316.77 L217.87,317.01 L218.50,317.24 L219.13,317.48 L219.76,317.71 L220.38,317.95 L221.00,318.18 L221.62,318.41 L222.24,318.64 L222.86,318.87 L223.48,319.11 L224.09,319.33 L224.70,319.56 L225.32,319.79 L225.93,320.02 L226.53,320.25 L227.14,320.47 L227.74,320.70 L228.35,320.92 L228.95,321.14 L229.55,321.37 L230.15,321.59 L230.74,321.81 L231.34,322.03 L231.93,322.25 L232.52,322.46 L233.11,322.68 L233.70,322.90 L234.29,323.11 L234.87,323.33 L235.45,323.54 L236.04,323.75 L236.62,323.96 L237.19,324.17 L237.77,324.38 L238.34,324.59 L238.92,324.80 L239.49,325.01 L240.06,325.21 L240.62,325.42 L241.19,325.62 L241.75,325.82 L242.31,326.03 L242.87,326.23 L243.43,326.43 L243.99,326.63 L244.54,326.82 L245.10,327.02 L245.65,327.22 L246.20,327.41 L246.74,327.60 L247.29,327.79 L247.83,327.99 L248.37,328.18 L248.91,328.36 L249.45,328.55 L249.99,328.74 L250.52,328.92 L251.05,329.11 L251.58,329.29 L252.11,329.47 L252.64,329.65 L253.17,329.83 L253.69,330.01 L254.21,330.19 L254.73,330.36 L255.25,330.54 L255.76,330.71 L256.27,330.88 L256.79,331.05 L257.30,331.22 L257.80,331.39 L258.31,331.56 L258.81,331.72 L259.31,331.89 L259.81,332.05 L260.31,332.21 L260.81,332.37 L261.30,332.53 L261.79,332.69 L262.28,332.85 L262.77,333.00 L263.26,333.16 L263.74,333.31 L264.22,333.46 L264.70,333.61 L265.18,333.76 L265.66,333.91 L266.13,334.05 L266.60,334.20 L267.07,334.34 L267.54,334.48 L268.01,334.62 L268.47,334.76 L268.93,334.90 L269.39,335.04 L269.85,335.18 L270.30,335.31 L270.76,335.44 L271.21,335.58 L271.66,335.71 L272.10,335.84 L272.55,335.96 L272.99,336.09 L273.43,336.22 L273.87,336.34 L274.31,336.46 L274.74,336.58 L275.17,336.70 L275.60,336.82 L276.03,336.94 L276.46,337.06 L276.88,337.17 L277.30,337.28 L277.72,337.40 L278.14,337.51 L278.56,337.62 L278.97,337.73 L279.38,337.83 L279.79,337.94 L280.20,338.04 L280.60,338.15 L281.00,338.25 L281.40,338.35 L281.80,338.45 L282.20,338.55 L282.59,338.65 L282.98,338.74 L283.37,338.84 L283.76,338.93 L284.14,339.02 L284.53,339.11 L284.91,339.20 L285.28,339.29 L285.66,339.38 L286.03,339.47 L286.41,339.55 L286.77,339.63 L287.14,339.72 L287.51,339.80 L287.87,339.88 L288.23,339.96 L288.59,340.04 L288.94,340.11 L289.30,340.19 L289.65,340.26 L290.00,340.34 L290.34,340.41 L290.69,340.48 L291.03,340.55 L291.37,340.62 L291.71,340.69 L292.04,340.76 L292.38,340.82 L292.71,340.89 L293.04,340.95 L293.36,341.02 L293.69,341.08 L294.01,341.14 L294.33,341.20 L294.64,341.26 L294.96,341.31 L295.27,341.37 L295.58,341.43 L295.89,341.48 L296.19,341.54 L296.50,341.59 L296.80,341.64 L297.10,341.69 L297.39,341.74 L297.69,341.79 L297.98,341.84 L298.27,341.89 L298.55,341.93 L298.84,341.98 L299.12,342.03 L299.40,342.07 L299.68,342.11 L299.95,342.15 L300.22,342.20 L300.49,342.24 L300.76,342.28 L301.03,342.32 L301.29,342.35 L301.55,342.39 L301.81,342.43 L302.07,342.47 L302.32,342.50 L302.57,342.54 L302.82,342.57 L303.07,342.60 L303.31,342.64 L303.55,342.67 L303.79,342.70 L304.03,342.73 L304.26,342.76 L304.49,342.79 L304.72,342.82 L304.95,342.85 L305.17,342.88 L305.40,342.91 L305.62,342.94 L305.83,342.97 L306.05,342.99 L306.26,343.02 L306.47,343.04 L306.68,343.07 L306.88,343.09 L307.09,343.12 L307.29,343.14 L307.49,343.17 L307.68,343.19 L307.87,343.21 L308.07,343.24 L308.25,343.26 L308.44,343.28 L308.62,343.30 L308.80,343.32 L308.98,343.34 L309.16,343.36 L309.33,343.38 L309.50,343.40 L309.67,343.42 L309.84,343.44 L310.00,343.46 L310.16,343.48 L310.32,343.50 L310.48,343.51 L310.63,343.53 L310.78,343.55 L310.93,343.56 L311.08,343.58 L311.22,343.60 L311.36,343.61 L311.50,343.63 L311.64,343.65 L311.77,343.66 L311.90,343.68 L312.03,343.69 L312.16,343.70 L312.28,343.72 L312.41,343.73 L312.53,343.75 L312.64,343.76 L312.76,343.77 L312.87,343.79 L312.98,343.80 L313.08,343.81 L313.19,343.82 L313.29,343.84 L313.39,343.85 L313.48,343.86 L313.58,343.87 L313.67,343.88 L313.76,343.89 L313.85,343.90 L313.93,343.91 L314.01,343.92 L314.09,343.93 L314.17,343.94 L314.24,343.95 L314.31,343.96 L314.38,343.97 L314.45,343.98 L314.51,343.99 L314.58,344.00 L314.63,344.00 L314.69,344.01 L314.75,344.02 L314.80,344.03 L314.85,344.03 L314.89,344.04 L314.94,344.05 L314.98,344.05 L315.02,344.06 L315.05,344.06 L315.09,344.07 L315.12,344.07 L315.15,344.08 L315.17,344.08 L315.20,344.08 L315.22,344.09 L315.24,344.09 L315.25,344.09 L315.27,344.09 L315.28,344.10 L315.29,344.10 L315.29,344.10 L315.30,344.10 L315.30,344.10" stroke="#996633"/>
<path d="M61.30,272.80 L62.10,272.86 L62.90,272.92 L63.70,272.98 L64.50,273.05 L65.30,273.12 L66.10,273.18 L66.90,273.25 L67.70,273.33 L68.50,273.40 L69.29,273.48 L70.09,273.55 L70.89,273.63 L71.69,273.72 L72.49,273.80 L73.29,273.88 L74.09,273.97 L74.89,274.06 L75.68,274.15 L76.48,274.24 L77.28,274.34 L78.08,274.43 L78.88,274.53 L79.67,274.63 L80.47,274.73 L81.27,274.84 L82.07,274.94 L82.86,275.05 L83.66,275.16 L84.46,275.27 L85.25,275.38 L86.05,275.49 L86.84,275.61 L87.64,275.73 L88.43,275.84 L89.23,275.96 L90.02,276.09 L90.82,276.21 L91.61,276.33 L92.40,276.46 L93.20,276.59 L93.99,276.72 L94.78,276.85 L95.58,276.99 L96.37,277.12 L97.16,277.26 L97.95,277.39 L98.74,277.53 L99.53,277.68 L100.32,277.82 L101.11,277.96 L101.90,278.11 L102.69,278.26 L103.48,278.40 L104.27,278.55 L105.06,278.71 L105.84,278.86 L106.63,279.01 L107.42,279.17 L108.20,279.33 L108.99,279.49 L109.77,279.65 L110.56,279.81 L111.34,279.97 L112.13,280.14 L112.91,280.30 L113.69,280.47 L114.47,280.64 L115.26,280.81 L116.04,280.98 L116.82,281.15 L117.60,281.32 L118.38,281.50 L119.16,281.68 L119.93,281.85 L120.71,282.03 L121.49,282.21 L122.27,282.39 L123.04,282.58 L123.82,282.76 L124.59,282.95 L125.37,283.13 L126.14,283.32 L126.91,283.51 L127.68,283.70 L128.45,283.89 L129.23,284.08 L130.00,284.27 L130.77,284.47 L131.53,284.66 L132.30,284.86 L133.07,285.06 L133.84,285.26 L134.60,285.46 L135.37,285.66 L136.13,285.86 L136.90,286.06 L137.66,286.27 L138.42,286.47 L139.18,286.68 L139.94,286.88 L140.70,287.09 L141.46,287.30 L142.22,287.51 L142.98,287.72 L143.73,287.93 L144.49,288.14 L145.24,288.36 L146.00,288.57 L146.75,288.79 L147.50,289.00 L148.26,289.22 L149.01,289.44 L149.76,289.66 L150.51,289.88 L151.25,290.10 L152.00,290.32 L152.75,290.54 L153.49,290.76 L154.24,290.99 L154.98,291.21 L155.72,291.44 L156.47,291.66 L157.21,291.89 L157.95,292.11 L158.69,292.34 L159.42,292.57 L160.16,292.80 L160.90,293.03 L161.63,293.26 L162.37,293.49 L163.10,293.72 L163.83,293.95 L164.56,294.19 L165.29,294.42 L166.02,294.65 L166.75,294.89 L167.48,295.12 L168.20,295.36 L168.93,295.60 L169.65,295.83 L170.37,296.07 L171.09,296.31 L171.82,296.55 L172.53,296.78 L173.25,297.02 L173.97,297.26 L174.69,297.50 L175.40,297.74 L176.11,297.98 L176.83,298.23 L177.54,298.47 L178.25,298.71 L178.96,298.95 L179.67,299.19 L180.37,299.44 L181.08,299.68 L181.78,299.92 L182.49,300.17 L183.19,300.41 L183.89,300.66 L184.59,300.90 L185.29,301.15 L185.98,301.39 L186.68,301.64 L187.38,301.88 L188.07,302.13 L188.76,302.38 L189.45,302.62 L190.14,302.87 L190.83,303.12 L191.52,303.36 L192.20,303.61 L192.89,303.86 L193.57,304.10 L194.25,304.35 L194.93,304.60 L195.61,304.85 L196.29,305.09 L196.97,305.34 L197.64,305.59 L198.32,305.84 L198.99,306.08 L199.66,306.33 L200.33,306.58 L201.00,306.83 L201.67,307.08 L202.33,307.32 L203.00,307.57 L203.66,307.82 L204.32,308.07 L204.98,308.31 L205.64,308.56 L206.30,308.81 L206.95,309.06 L207.61,309.30 L208.26,309.55 L208.91,309.80 L209.56,310.04 L210.21,310.29 L210.86,310.54 L211.50,310.78 L212.15,311.03 L212.79,311.27 L213.43,311.52 L214.07,311.76 L214.71,312.01 L215.34,312.25 L215.98,312.50 L216.61,312.74 L217.24,312.99 L217.87,313.23 L218.50,313.47 L219.13,313.72 L219.76,313.96 L220.38,314.20 L221.00,314.44 L221.62,314.69 L222.24,314.93 L222.86,315.17 L223.48,315.41 L224.09,315.65 L224.70,315.89 L225.32,316.13 L225.93,316.37 L226.53,316.60 L227.14,316.84 L227.74,317.08 L228.35,317.32 L228.95,317.55 L229.55,317.79 L230.15,318.02 L230.74,318.26 L231.34,318.49 L231.93,318.73 L232.52,318.96 L233.11,319.19 L233.70,319.43 L234.29,319.66 L234.87,319.89 L235.45,320.12 L236.04,320.35 L236.62,320.58 L237.19,320.81 L237.77,321.04 L238.34,321.26 L238.92,321.49 L239.49,321.72 L240.06,321.94 L240.62,322.17 L241.19,322.39 L241.75,322.61 L242.31,322.83 L242.87,323.06 L243.43,323.28 L243.99,323.50 L244.54,323.72 L245.10,323.93 L245.65,324.15 L246.20,324.37 L246.74,324.58 L247.29,324.80 L247.83,325.01 L248.37,325.22 L248.91,325.44 L249.45,325.65 L249.99,325.86 L250.52,326.07 L251.05,326.27 L251.58,326.48 L252.11,326.69 L252.64,326.89 L253.17,327.09 L253.69,327.30 L254.21,327.50 L254.73,327.70 L255.25,327.90 L255.76,328.09 L256.27,328.29 L256.79,328.49 L257.30,328.68 L257.80,328.87 L258.31,329.07 L258.81,329.26 L259.31,329.45 L259.81,329.63 L260.31,329.82 L260.81,330.01 L261.30,330.19 L261.79,330.37 L262.28,330.55 L262.77,330.74 L263.26,330.91 L263.74,331.09 L264.22,331.27 L264.70,331.44 L265.18,331.62 L265.66,331.79 L266.13,331.96 L266.60,332.13 L267.07,332.30 L267.54,332.47 L268.01,332.63 L268.47,332.80 L268.93,332.96 L269.39,333.12 L269.85,333.28 L270.30,333.44 L270.76,333.59 L271.21,333.75 L271.66,333.90 L272.10,334.06 L272.55,334.21 L272.99,334.36 L273.43,334.51 L273.87,334.65 L274.31,334.80 L274.74,334.94 L275.17,335.09 L275.60,335.23 L276.03,335.37 L276.46,335.51 L276.88,335.64 L277.30,335.78 L277.72,335.91 L278.14,336.05 L278.56,336.18 L278.97,336.31 L279.38,336.44 L279.79,336.56 L280.20,336.69 L280.60,336.81 L281.00,336.94 L281.40,337.06 L281.80,337.18 L282.20,337.30 L282.59,337.41 L282.98,337.53 L283.37,337.64 L283.76,337.76 L284.14,337.87 L284.53,337.98 L284.91,338.09 L285.28,338.19 L285.66,338.30 L286.03,338.40 L286.41,338.51 L286.77,338.61 L287.14,338.71 L287.51,338.81 L287.87,338.90 L288.23,339.00 L288.59,339.09 L288.94,339.19 L289.30,339.28 L289.65,339.37 L290.00,339.46 L290.34,339.55 L290.69,339.64 L291.03,339.72 L291.37,339.81 L291.71,339.89 L292.04,339.97 L292.38,340.05 L292.71,340.13 L293.04,340.21 L293.36,340.29 L293.69,340.36 L294.01,340.44 L294.33,340.51 L294.64,340.58 L294.96,340.65 L295.27,340.72 L295.58,340.79 L295.89,340.86 L296.19,340.92 L296.50,340.99 L296.80,341.05 L297.10,341.11 L297.39,341.17 L297.69,341.23 L297.98,341.29 L298.27,341.35 L298.55,341.41 L298.84,341.47 L299.12,341.52 L299.40,341.57 L299.68,341.63 L299.95,341.68 L300.22,341.73 L300.49,341.78 L300.76,341.83 L301.03,341.88 L301.29,341.92 L301.55,341.97 L301.81,342.02 L302.07,342.06 L302.32,342.10 L302.57,342.15 L302.82,342.19 L303.07,342.23 L303.31,342.27 L303.55,342.31 L303.79,342.35 L304.03,342.39 L304.26,342.43 L304.49,342.46 L304.72,342.50 L304.95,342.54 L305.17,342.57 L305.40,342.61 L305.62,342.64 L305.83,342.67 L306.05,342.71 L306.26,342.74 L306.47,342.77 L306.68,342.80 L306.88,342.83 L307.09,342.86 L307.29,342.89 L307.49,342.92 L307.68,342.95 L307.87,342.98 L308.07,343.01 L308.25,343.04 L308.44,343.06 L308.62,343.09 L308.80,343.11 L308.98,343.14 L309.16,343.17 L309.33,343.19 L309.50,343.22 L309.67,343.24 L309.84,343.26 L310.00,343.29 L310.16,343.31 L310.32,343.33 L310.48,343.35 L310.63,343.38 L310.78,343.40 L310.93,343.42 L311.08,343.44 L311.22,343.46 L311.36,343.48 L311.50,343.50 L311.64,343.52 L311.77,343.54 L311.90,343.56 L312.03,343.58 L312.16,343.59 L312.28,343.61 L312.41,343.63 L312.53,343.65 L312.64,343.66 L312.76,343.68 L312.87,343.70 L312.98,343.71 L313.08,343.73 L313.19,343.75 L313.29,343.76 L313.39,343.78 L313.48,343.79 L313.58,343.81 L313.67,343.82 L313.76,343.83 L313.85,343.85 L313.93,343.86 L314.01,343.87 L314.09,343.89 L314.17,343.90 L314.24,343.91 L314.31,343.92 L314.38,343.93 L314.45,343.94 L314.51,343.96 L314.58,343.97 L314.63,343.98 L314.69,343.99 L314.75,344.00 L314.80,344.00 L314.85,344.01 L314.89,344.02 L314.94,344.03 L314.98,344.04 L315.02,344.04 L315.05,344.05 L315.09,344.06 L315.12,344.06 L315.15,344.07 L315.17,344.07 L315.20,344.08 L315.22,344.08 L315.24,344.09 L315.25,344.09 L315.27,344.09 L315.28,344.10 L315.29,344.10 L315.29,344.10 L315.30,344.10 L315.30,344.10" stroke="#ff8000"/>
</g>
<rect x="55.8" y="118.9" width="264.50" height="225.50" fill="none" stroke="#cbcbcb" stroke-width="0.9"/>
<path d="M61.30,344.4v-3.0M61.30,118.9v3.0M74.00,344.4v-1.9M74.00,118.9v1.9M86.70,344.4v-1.9M86.70,118.9v1.9M99.40,344.4v-1.9M99.40,118.9v1.9M112.10,344.4v-3.0M112.10,118.9v3.0M124.80,344.4v-1.9M124.80,118.9v1.9M137.50,344.4v-1.9M137.50,118.9v1.9M150.20,344.4v-1.9M150.20,118.9v1.9M162.90,344.4v-3.0M162.90,118.9v3.0M175.60,344.4v-1.9M175.60,118.9v1.9M188.30,344.4v-1.9M188.30,118.9v1.9M201.00,344.4v-1.9M201.00,118.9v1.9M213.70,344.4v-3.0M213.70,118.9v3.0M226.40,344.4v-1.9M226.40,118.9v1.9M239.10,344.4v-1.9M239.10,118.9v1.9M251.80,344.4v-1.9M251.80,118.9v1.9M264.50,344.4v-3.0M264.50,118.9v3.0M277.20,344.4v-1.9M277.20,118.9v1.9M289.90,344.4v-1.9M289.90,118.9v1.9M302.60,344.4v-1.9M302.60,118.9v1.9M315.30,344.4v-3.0M315.30,118.9v3.0M55.8,344.10h2.8M320.3,344.10h-2.8M55.8,336.59h1.3M320.3,336.59h-1.3M55.8,329.07h1.3M320.3,329.07h-1.3M55.8,321.56h1.3M320.3,321.56h-1.3M55.8,314.04h1.3M320.3,314.04h-1.3M55.8,306.53h2.8M320.3,306.53h-2.8M55.8,299.01h1.3M320.3,299.01h-1.3M55.8,291.50h1.3M320.3,291.50h-1.3M55.8,283.98h1.3M320.3,283.98h-1.3M55.8,276.47h1.3M320.3,276.47h-1.3M55.8,268.95h2.8M320.3,268.95h-2.8M55.8,261.44h1.3M320.3,261.44h-1.3M55.8,253.92h1.3M320.3,253.92h-1.3M55.8,246.41h1.3M320.3,246.41h-1.3M55.8,238.89h1.3M320.3,238.89h-1.3M55.8,231.38h2.8M320.3,231.38h-2.8M55.8,223.86h1.3M320.3,223.86h-1.3M55.8,216.34h1.3M320.3,216.34h-1.3M55.8,208.83h1.3M320.3,208.83h-1.3M55.8,201.31h1.3M320.3,201.31h-1.3M55.8,193.80h2.8M320.3,193.80h-2.8M55.8,186.29h1.3M320.3,186.29h-1.3M55.8,178.77h1.3M320.3,178.77h-1.3M55.8,171.26h1.3M320.3,171.26h-1.3M55.8,163.74h1.3M320.3,163.74h-1.3M55.8,156.22h2.8M320.3,156.22h-2.8M55.8,148.71h1.3M320.3,148.71h-1.3M55.8,141.19h1.3M320.3,141.19h-1.3M55.8,133.68h1.3M320.3,133.68h-1.3M55.8,126.16h1.3M320.3,126.16h-1.3M55.8,118.65h2.8M320.3,118.65h-2.8" stroke="#d0d0d0" stroke-width="0.8" fill="none"/>
<text transform="translate(61.30,367.30) scale(1,1.42)" font-size="17.3" text-anchor="middle" >0.0</text>
<text transform="translate(112.10,367.30) scale(1,1.42)" font-size="17.3" text-anchor="middle" >0.2</text>
<text transform="translate(162.90,367.30) scale(1,1.42)" font-size="17.3" text-anchor="middle" >0.4</text>
<text transform="translate(213.70,367.30) scale(1,1.42)" font-size="17.3" text-anchor="middle" >0.6</text>
<text transform="translate(264.50,367.30) scale(1,1.42)" font-size="17.3" text-anchor="middle" >0.8</text>
<text transform="translate(315.30,367.30) scale(1,1.42)" font-size="17.3" text-anchor="middle" >1.0</text>
<text transform="translate(54.20,352.70) scale(1,1.42)" font-size="17.3" text-anchor="end" >0.0</text>
<text transform="translate(54.20,315.13) scale(1,1.42)" font-size="17.3" text-anchor="end" >0.5</text>
<text transform="translate(54.20,277.55) scale(1,1.42)" font-size="17.3" text-anchor="end" >1.0</text>
<text transform="translate(54.20,239.97) scale(1,1.42)" font-size="17.3" text-anchor="end" >1.5</text>
<text transform="translate(54.20,202.40) scale(1,1.42)" font-size="17.3" text-anchor="end" >2.0</text>
<text transform="translate(54.20,164.83) scale(1,1.42)" font-size="17.3" text-anchor="end" >2.5</text>
<text transform="translate(54.20,127.25) scale(1,1.42)" font-size="17.3" text-anchor="end" >3.0</text>
<text transform="translate(188.00,398.50) scale(1,1.42)" font-size="17.2" text-anchor="middle" >Sin <tspan font-style="italic">α</tspan></text>
<text transform="translate(24.2,249.3) rotate(-90) scale(1.55,1) skewX(-5)" font-size="16" font-style="italic">R</text>
<text transform="translate(27.1,235.6) rotate(-90) scale(1.3,1)" font-size="13.4" font-style="italic">Z</text>
<text transform="translate(26.8,223.4) rotate(-90) scale(1.75,1)" font-size="10.2" font-style="italic">γ</text>
<rect x="58.4" y="129.5" width="100.10" height="135.20" fill="#ffffff" stroke="#d4d4d4" stroke-width="1"/>
<path d="M63.3,142.20H79.4" stroke="#00ff00" stroke-width="1.35" stroke-dasharray="2.8,0.7" fill="none"/>
<text transform="translate(97.00,148.20) scale(1,1.27)" font-size="12.8" text-anchor="start" ><tspan font-style="italic">m</tspan><tspan font-style="italic" font-size="9.2" dx="0.6" dy="2.9">H</tspan><tspan font-size="6.2" dx="0.5" dy="-2.9" letter-spacing="0.9">++</tspan><tspan dx="0.2" dy="1.1">=</tspan><tspan dx="0.5" dy="-1.1">150</tspan></text>
<path d="M63.3,164.26H79.4" stroke="#ff0000" stroke-width="1.35" stroke-dasharray="2.8,0.7" fill="none"/>
<text transform="translate(97.00,170.26) scale(1,1.27)" font-size="12.8" text-anchor="start" ><tspan font-style="italic">m</tspan><tspan font-style="italic" font-size="9.2" dx="0.6" dy="2.9">H</tspan><tspan font-size="6.2" dx="0.5" dy="-2.9" letter-spacing="0.9">++</tspan><tspan dx="0.2" dy="1.1">=</tspan><tspan dx="0.5" dy="-1.1">200</tspan></text>
<path d="M63.3,186.32H79.4" stroke="#0000ff" stroke-width="1.35" stroke-dasharray="2.8,0.7" fill="none"/>
<text transform="translate(97.00,192.32) scale(1,1.27)" font-size="12.8" text-anchor="start" ><tspan font-style="italic">m</tspan><tspan font-style="italic" font-size="9.2" dx="0.6" dy="2.9">H</tspan><tspan font-size="6.2" dx="0.5" dy="-2.9" letter-spacing="0.9">++</tspan><tspan dx="0.2" dy="1.1">=</tspan><tspan dx="0.5" dy="-1.1">250</tspan></text>
<path d="M63.3,208.38H79.4" stroke="#ffff00" stroke-width="1.35" stroke-dasharray="2.8,0.7" fill="none"/>
<text transform="translate(97.00,214.38) scale(1,1.27)" font-size="12.8" text-anchor="start" ><tspan font-style="italic">m</tspan><tspan font-style="italic" font-size="9.2" dx="0.6" dy="2.9">H</tspan><tspan font-size="6.2" dx="0.5" dy="-2.9" letter-spacing="0.9">++</tspan><tspan dx="0.2" dy="1.1">=</tspan><tspan dx="0.5" dy="-1.1">300</tspan></text>
<path d="M63.3,230.44H79.4" stroke="#996633" stroke-width="1.35" stroke-dasharray="2.8,0.7" fill="none"/>
<text transform="translate(97.00,236.44) scale(1,1.27)" font-size="12.8" text-anchor="start" ><tspan font-style="italic">m</tspan><tspan font-style="italic" font-size="9.2" dx="0.6" dy="2.9">H</tspan><tspan font-size="6.2" dx="0.5" dy="-2.9" letter-spacing="0.9">++</tspan><tspan dx="0.2" dy="1.1">=</tspan><tspan dx="0.5" dy="-1.1">500</tspan></text>
<path d="M63.3,252.50H79.4" stroke="#ff8000" stroke-width="1.35" stroke-dasharray="2.8,0.7" fill="none"/>
<text transform="translate(97.00,258.50) scale(1,1.27)" font-size="12.8" text-anchor="start" ><tspan font-style="italic">m</tspan><tspan font-style="italic" font-size="9.2" dx="0.6" dy="2.9">H</tspan><tspan font-size="6.2" dx="0.5" dy="-2.9" letter-spacing="0.9">++</tspan><tspan dx="0.2" dy="1.1">=</tspan><tspan dx="0.5" dy="-1.1">600</tspan></text>
</svg></body></html>
